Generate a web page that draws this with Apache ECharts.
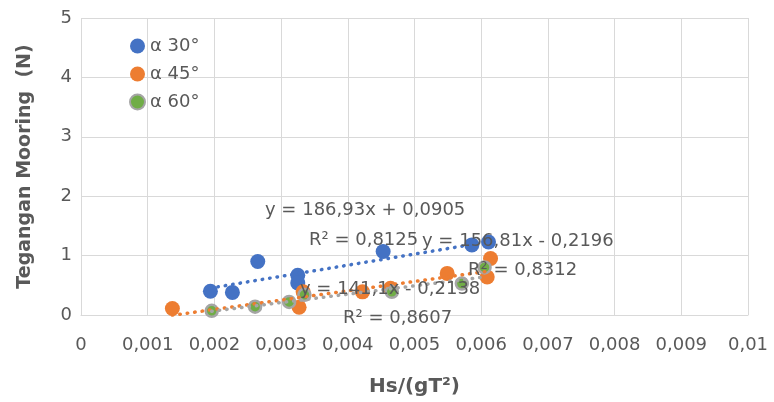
<!DOCTYPE html>
<html>
<head>
<meta charset="utf-8">
<script src="https://cdn.jsdelivr.net/npm/echarts@6/dist/echarts.min.js"></script>
<style>
  html, body { margin: 0; padding: 0; background: #ffffff; }
  #chart { width: 774px; height: 402px; }
</style>
</head>
<body>
<div id="chart"></div>
<script>
// Mooring tension against wave steepness for three mooring angles
const xTicks = ['0', '0,001', '0,002', '0,003', '0,004', '0,005', '0,006', '0,007', '0,008', '0,009', '0,01'];
const yTicks = ['0', '1', '2', '3', '4', '5'];

const seriesNames = ['α 30°', 'α 45°', 'α 60°'];

const a30X = [0.00194, 0.00227, 0.00265, 0.00325, 0.00325, 0.00453, 0.00586, 0.00611];
const a30Y = [0.40, 0.38, 0.90, 0.67, 0.54, 1.07, 1.18, 1.23];

const a45X = [0.00137, 0.00327, 0.00333, 0.00422, 0.00464, 0.00549, 0.00609, 0.00614];
const a45Y = [0.11, 0.13, 0.39, 0.39, 0.45, 0.70, 0.64, 0.95];

const a60X = [0.00196, 0.00261, 0.00312, 0.00335, 0.00466, 0.00571, 0.00605];
const a60Y = [0.07, 0.14, 0.22, 0.34, 0.39, 0.53, 0.80];

// Linear trend coefficients (slope, intercept) and R²
const trendSlope = [186.93, 156.81, 141.1];
const trendIntercept = [0.0905, -0.2196, -0.2138];
const trendR2 = ['0,8125', '0,8312', '0,8607'];
const trendEq = ['y = 186,93x + 0,0905', 'y = 156,81x - 0,2196', 'y = 141,1x - 0,2138'];

const FONT = 'DejaVu Sans';
const TXT = '#595959';
const GRID = '#D9D9D9';
const colors = ['#4472C4', '#ED7D31', '#70AD47'];
const trendColors = ['#4472C4', '#ED7D31', '#A5A5A5'];

const xs = [a30X, a45X, a60X];
const ys = [a30Y, a45Y, a60Y];

function pairs(x, y) { return x.map((v, i) => [v, y[i]]); }
function trend(k) {
  const x0 = Math.min.apply(null, xs[k]);
  const x1 = Math.max.apply(null, xs[k]);
  return [[x0, trendSlope[k] * x0 + trendIntercept[k]], [x1, trendSlope[k] * x1 + trendIntercept[k]]];
}

const scatterSeries = [0, 1, 2].map(k => ({
  name: seriesNames[k],
  type: 'scatter',
  data: pairs(xs[k], ys[k]),
  symbol: 'circle',
  symbolSize: k === 2 ? 12 : 15,
  itemStyle: k === 2
    ? { color: colors[k], borderColor: '#A5A5A5', borderWidth: 2.5, opacity: 1 }
    : { color: colors[k], opacity: 1 },
  z: 2
}));

const trendSeries = [0, 1, 2].map(k => ({
  name: 'trend' + k,
  type: 'line',
  data: trend(k),
  symbol: 'none',
  silent: true,
  lineStyle: { color: trendColors[k], width: 3.5, type: [0.5, 7], cap: 'round' },
  z: 3
}));

// Equation and R² labels
const labelPos = [
  { eq: [265, 212], r2: [309, 242] },
  { eq: [422, 243], r2: [468, 272] },
  { eq: [300, 291], r2: [343, 320] }
];
const graphics = [];
for (let k = 0; k < 3; k++) {
  graphics.push({
    type: 'text', left: labelPos[k].eq[0], top: labelPos[k].eq[1] - 11, z: 100,
    style: { text: trendEq[k], font: '18px "' + FONT + '"', fill: TXT }
  });
  graphics.push({
    type: 'text', left: labelPos[k].r2[0], top: labelPos[k].r2[1] - 11, z: 100,
    style: { text: 'R² = ' + trendR2[k], font: '18px "' + FONT + '"', fill: TXT }
  });
}

const chart = echarts.init(document.getElementById('chart'), null, { renderer: 'canvas' });
chart.setOption({
  animation: false,
  backgroundColor: '#ffffff',
  textStyle: { fontFamily: FONT },
  grid: { left: 81, right: 26, top: 18, bottom: 87, containLabel: false },
  legend: {
    data: seriesNames,
    orient: 'vertical',
    left: 124,
    top: 32,
    itemWidth: 15,
    itemHeight: 15,
    itemGap: 10,
    icon: 'circle',
    textStyle: { fontFamily: FONT, fontSize: 18, color: TXT }
  },
  xAxis: {
    type: 'value',
    min: 0, max: 0.01, interval: 0.001,
    name: 'Hs/(gT²)',
    nameLocation: 'middle',
    nameGap: 62,
    nameTextStyle: { fontFamily: FONT, fontSize: 20, fontWeight: 'bold', color: TXT },
    axisLine: { show: true, lineStyle: { color: GRID, width: 1 } },
    axisTick: { show: false },
    splitLine: { show: true, lineStyle: { color: GRID, width: 1 } },
    axisLabel: {
      fontFamily: FONT, fontSize: 18, color: TXT, margin: 21,
      formatter: v => xTicks[Math.round(v / 0.001)]
    }
  },
  yAxis: {
    type: 'value',
    min: 0, max: 5, interval: 1,
    name: 'Tegangan Mooring  (N)',
    nameLocation: 'middle',
    nameGap: 46,
    nameTextStyle: { fontFamily: FONT, fontSize: 19, fontWeight: 'bold', color: TXT },
    axisLine: { show: false },
    axisTick: { show: false },
    splitLine: { show: true, lineStyle: { color: GRID, width: 1 } },
    axisLabel: {
      fontFamily: FONT, fontSize: 18, color: TXT, margin: 9,
      formatter: v => yTicks[Math.round(v)]
    }
  },
  series: scatterSeries.concat(trendSeries),
  graphic: graphics
});
</script>
</body>
</html>
